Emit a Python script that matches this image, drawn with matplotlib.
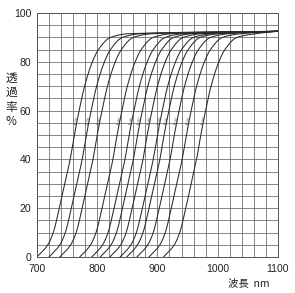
import numpy as np
import matplotlib
matplotlib.use("Agg")
import matplotlib.pyplot as plt

plt.rcParams['font.family'] = ['Noto Sans CJK JP', 'DejaVu Sans']

# transmission levels (%) shared by all curves
levels = [0, 5, 10, 20, 30, 40, 50, 60, 70, 80, 85, 90, 91.5]
# wavelength (nm) at which each curve reaches the levels above
curves = {
    "IR-76": [700, 718, 727, 737, 746, 755, 762, 770, 779, 792, 802, 822, 852],
    "IR-78": [720, 738, 747, 757, 766, 775, 782, 790, 799, 812, 822, 842, 872],
    "IR-80": [738, 756, 765, 775, 784, 793, 800, 808, 817, 830, 840, 860, 890],
    "IR-83": [771, 789, 798, 808, 817, 826, 833, 841, 850, 863, 873, 893, 923],
    "IR-85": [791, 809, 818, 828, 837, 846, 853, 861, 870, 883, 893, 913, 943],
    "IR-87": [805, 823, 832, 842, 851, 860, 867, 875, 884, 897, 907, 927, 957],
    "IR-88": [821, 839, 848, 858, 867, 876, 883, 891, 900, 913, 923, 943, 973],
    "IR-90": [838, 856, 865, 875, 884, 893, 900, 908, 917, 930, 940, 960, 990],
    "IR-91": [849, 867, 876, 886, 895, 904, 911, 919, 928, 941, 951, 971, 1001],
    "IR-93": [866, 884, 893, 903, 912, 921, 928, 936, 945, 958, 968, 988, 1018],
    "IR-95": [886, 904, 913, 923, 932, 941, 948, 956, 965, 978, 988, 1008, 1038],
    "IR-97": [910, 928, 937, 947, 956, 965, 972, 980, 989, 1002, 1012, 1032, 1062],
}
end_wl = 1100
end_t = 92.5

xticks = [700, 800, 900, 1000, 1100]
yticks = [0, 20, 40, 60, 80, 100]
ylabel_chars = ["透", "過", "率", "%"]


def pchip(x, y, xn):
    x = np.asarray(x, float); y = np.asarray(y, float)
    h = np.diff(x); d = np.diff(y) / h
    m = np.zeros_like(y)
    for k in range(1, len(x) - 1):
        if d[k - 1] * d[k] > 0:
            w1 = 2 * h[k] + h[k - 1]; w2 = h[k] + 2 * h[k - 1]
            m[k] = (w1 + w2) / (w1 / d[k - 1] + w2 / d[k])
    m[0] = d[0]; m[-1] = d[-1]
    idx = np.clip(np.searchsorted(x, xn) - 1, 0, len(h) - 1)
    t = (xn - x[idx]) / h[idx]
    h00 = 2 * t**3 - 3 * t**2 + 1; h10 = t**3 - 2 * t**2 + t
    h01 = -2 * t**3 + 3 * t**2; h11 = t**3 - t**2
    return (h00 * y[idx] + h10 * h[idx] * m[idx] + h01 * y[idx + 1]
            + h11 * h[idx] * m[idx + 1])


fig = plt.figure(figsize=(2.95, 2.93), dpi=100)
ax = fig.add_axes([0.1254, 0.1229, 0.8166, 0.8327])
ax.set_xlim(700, 1100)
ax.set_ylim(0, 100)
ax.set_xticks(np.arange(700, 1101, 20), minor=True)
ax.set_yticks(np.arange(0, 101, 5), minor=True)
ax.set_xticks(xticks)
ax.set_yticks(yticks)
ax.set_xticklabels([str(v) for v in xticks], fontsize=7.5, family='Liberation Sans')
ax.set_yticklabels([str(v) for v in yticks], fontsize=7.5, family='Liberation Sans')
ax.grid(which='both', color='#707070', lw=0.6)
ax.tick_params(which='both', length=0, colors='#222222')
ax.tick_params(axis='y', pad=4)
ax.tick_params(axis='x', pad=5)
for s in ax.spines.values():
    s.set_color('#555555'); s.set_linewidth(0.7)

for name, wl in curves.items():
    xs = list(wl) + [end_wl]
    ys = list(levels) + [end_t]
    xn = np.linspace(xs[0], end_wl, 400)
    yn = pchip(xs, ys, xn)
    ax.plot(xn, yn, color='#2a2a2a', lw=0.75)
    c = wl[6]
    ax.text(c + 4, 56, name, fontsize=2.6, rotation=76, color='#444444',
            ha='center', va='center')

for i, ch in enumerate(ylabel_chars):
    fig.text(11 / 295, 1 - (78 + i * 14.5) / 293, ch, fontsize=8.5, ha='center',
             va='center', color='#222222', family='Noto Sans CJK JP')
fig.text(1 - 25 / 295, 1 - 283 / 293, "波長  nm", fontsize=7.5, ha='right',
         va='center', color='#222222')

fig.savefig("out.png", dpi=100, facecolor='white')
